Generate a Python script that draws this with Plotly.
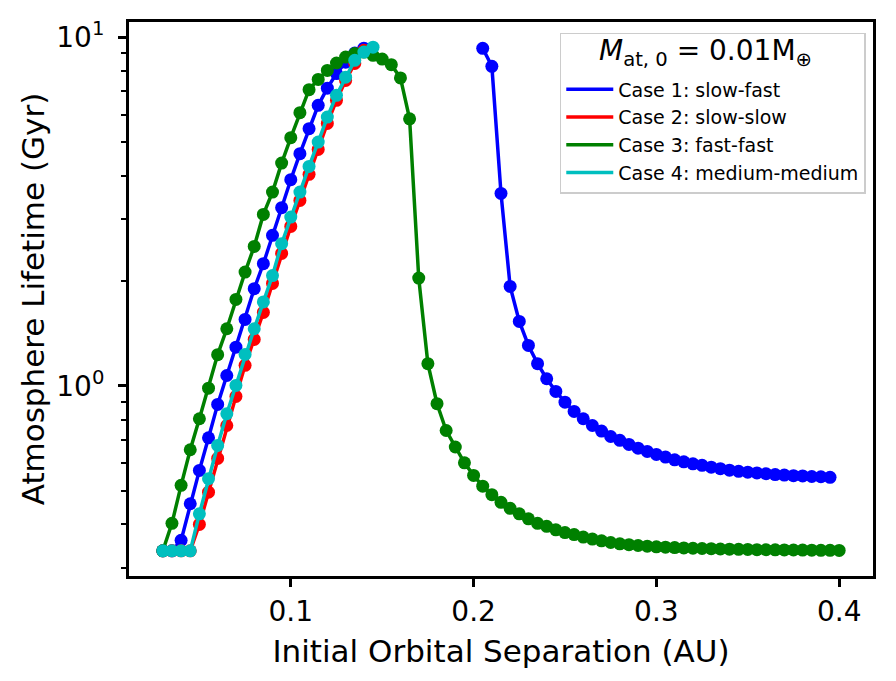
import math
import plotly.graph_objects as go

separation_au = [
    0.030, 0.035, 0.040, 0.045, 0.050, 0.055, 0.060, 0.065, 0.070, 0.075,
    0.080, 0.085, 0.090, 0.095, 0.100, 0.105, 0.110, 0.115, 0.120, 0.125,
    0.130, 0.135, 0.140, 0.145, 0.150, 0.155, 0.160, 0.165, 0.170, 0.175,
    0.180, 0.185, 0.190, 0.195, 0.200, 0.205, 0.210, 0.215, 0.220, 0.225,
    0.230, 0.235, 0.240, 0.245, 0.250, 0.255, 0.260, 0.265, 0.270, 0.275,
    0.280, 0.285, 0.290, 0.295, 0.300, 0.305, 0.310, 0.315, 0.320, 0.325,
    0.330, 0.335, 0.340, 0.345, 0.350, 0.355, 0.360, 0.365, 0.370, 0.375,
    0.380, 0.385, 0.390, 0.395, 0.400,
]

case1_slow_fast = [
    0.336, 0.336, 0.360, 0.4585, 0.5715, 0.709, 0.884, 1.070, 1.29, 1.55,
    1.898, 2.239, 2.70, 3.243, 3.90, 4.632, 5.463, 6.374, 7.14, 7.86,
    8.48, 9.0, 9.30, None, None, None, None, None, None, None,
    None, None, None, None, None, 9.29, 8.25, 3.563, 1.927, 1.529,
    1.305, 1.157, 1.047, 0.963, 0.897, 0.844, 0.804, 0.769, 0.741, 0.715,
    0.697, 0.6785, 0.662, 0.648, 0.635, 0.624, 0.613, 0.605, 0.597, 0.591,
    0.584, 0.578, 0.5725, 0.568, 0.565, 0.562, 0.559, 0.556, 0.554, 0.552,
    0.551, 0.549, 0.548, 0.546, None,
]

case2_slow_slow = [
    0.336, 0.336, 0.336, 0.336, 0.400, 0.495, 0.6185, 0.769, 0.932, 1.144,
    1.358, 1.623, 1.966, 2.397, 2.865, 3.402, 4.04, 4.764, 5.657, 6.588,
    7.516, 8.41, 9.17,
] + [None] * 52

case3_fast_fast = [
    0.336, 0.403, 0.518, 0.655, 0.804, 0.984, 1.228, 1.457, 1.769, 2.118,
    2.510, 3.101, 3.593, 4.352, 5.147, 6.072, 7.07, 7.565, 8.03, 8.43,
    8.77, 8.97, 9.06, 8.87, 8.65, 8.34, 7.64, 5.83, 2.036, 1.157,
    0.888, 0.744, 0.667, 0.601, 0.553, 0.515, 0.487, 0.463, 0.445, 0.429,
    0.415, 0.403, 0.395, 0.386, 0.379, 0.374, 0.368, 0.363, 0.359, 0.355,
    0.352, 0.350, 0.348, 0.3465, 0.345, 0.3442, 0.3433, 0.3425, 0.3418, 0.3412,
    0.3407, 0.3401, 0.3397, 0.3393, 0.3390, 0.3386, 0.3384, 0.3382, 0.3380, 0.3378,
    0.3376, 0.3374, 0.3372, 0.3370, 0.3368,
]

case4_medium_medium = [
    0.336, 0.336, 0.336, 0.336, 0.429, 0.541, 0.674, 0.831, 1.002, 1.23,
    1.457, 1.74, 2.07, 2.556, 3.046, 3.593, 4.258, 5.00, 5.90, 6.81,
    7.68, 8.58, 9.06, 9.36,
] + [None] * 51

series_names = ["Case 1: slow-fast", "Case 2: slow-slow", "Case 3: fast-fast", "Case 4: medium-medium"]
series_values = [case1_slow_fast, case2_slow_slow, case3_fast_fast, case4_medium_medium]
series_colors = ["#0000ff", "#ff0000", "#008000", "#00bfbf"]
legend_title = "<i>M</i><sub>at, 0</sub> = 0.01M<sub>⊕</sub>"

y_major_ticks = [1, 10]
y_major_labels = ["10<sup>0</sup>", "10<sup>1</sup>"]
y_minor_ticks = [0.3, 0.4, 0.5, 0.6, 0.7, 0.8, 0.9, 2, 3, 4, 5, 6, 7, 8, 9]
x_ticks = [0.1, 0.2, 0.3, 0.4]
x_tick_labels = ["0.1", "0.2", "0.3", "0.4"]

fig = go.Figure()
for name, vals, color in zip(series_names, series_values, series_colors):
    fig.add_trace(go.Scatter(
        x=separation_au, y=vals, mode="lines", name=name,
        line=dict(color=color, width=3.5), legendgroup=name, showlegend=True,
    ))
    fig.add_trace(go.Scatter(
        x=separation_au, y=vals, mode="markers", name=name,
        marker=dict(color=color, size=13, line=dict(width=0)),
        legendgroup=name, showlegend=False,
    ))

all_y = [v for s in series_values for v in s if v is not None]
lo, hi = math.log10(min(all_y)), math.log10(max(all_y))
pad = 0.05 * (hi - lo)
xs = separation_au
xpad = 0.05 * (max(xs) - min(xs))

fig.update_layout(
    width=896, height=681,
    margin=dict(l=129, r=23, t=22, b=105),
    plot_bgcolor="white", paper_bgcolor="white",
    font=dict(family="DejaVu Sans", color="black"),
    legend=dict(
        x=0.579, y=0.981, xanchor="left", yanchor="top",
        bgcolor="rgba(255,255,255,0)", bordercolor="#cccccc", borderwidth=1.5,
        font=dict(size=19), tracegroupgap=0, itemwidth=47,
        title=dict(text="&nbsp;", font=dict(size=28), side="top center"),
    ),
    annotations=[dict(
        text=legend_title, xref="paper", yref="paper", x=0.7755, y=0.945,
        xanchor="center", yanchor="middle", showarrow=False,
        font=dict(size=28, family="DejaVu Sans", color="black"),
    )],
)
fig.update_xaxes(
    range=[min(xs) - xpad, max(xs) + xpad],
    tickmode="array", tickvals=x_ticks, ticktext=x_tick_labels,
    ticks="outside", ticklen=8, tickwidth=2.5, tickcolor="black",
    showline=True, linewidth=3, linecolor="black", mirror=True,
    showgrid=False, zeroline=False,
    tickfont=dict(size=28),
    title=dict(text="Initial Orbital Separation (AU)", font=dict(size=31), standoff=14),
)
fig.update_yaxes(
    type="log", range=[lo - pad, hi + pad],
    tickmode="array", tickvals=y_major_ticks, ticktext=y_major_labels,
    ticks="outside", ticklen=8, tickwidth=2.5, tickcolor="black",
    minor=dict(tickmode="array", tickvals=y_minor_ticks, ticks="outside", ticklen=5, tickwidth=2, tickcolor="black"),
    showline=True, linewidth=3, linecolor="black", mirror=True,
    showgrid=False, zeroline=False,
    tickfont=dict(size=28), ticklabelstandoff=8,
    title=dict(text="Atmosphere Lifetime (Gyr)", font=dict(size=31), standoff=3),
)

fig.write_html("out.html")
